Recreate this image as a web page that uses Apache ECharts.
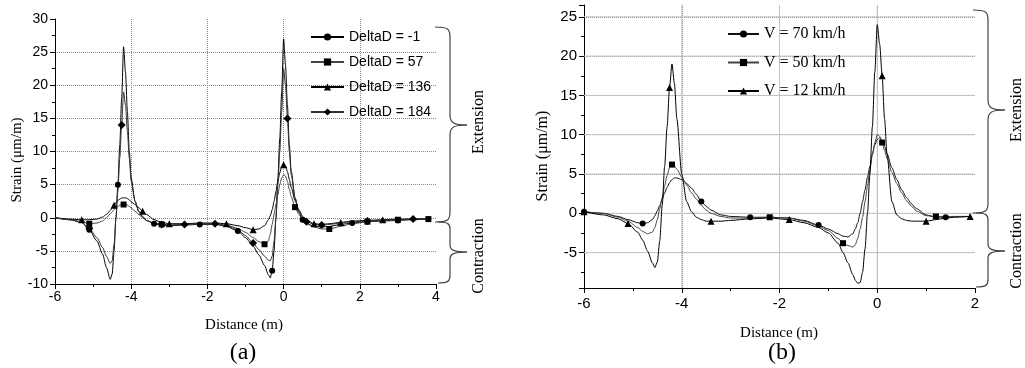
<!DOCTYPE html>
<html>
<head>
<meta charset="utf-8">
<script src="https://cdn.jsdelivr.net/npm/echarts@6/dist/echarts.min.js"></script>
<style>html,body{margin:0;padding:0;background:#fff}#c{width:1025px;height:368px}</style>
</head>
<body>
<div id="c"></div>
<script>
// ---------- Chart (a) ----------
const xA = [-6, -5.6, -5.3, -5.1, -4.9, -4.75, -4.65, -4.55, -4.5, -4.45,
  -4.4, -4.35, -4.3, -4.25, -4.2, -4.15, -4.1, -4.05, -4.0, -3.9,
  -3.8, -3.7, -3.6, -3.4, -3.2, -3.0, -2.6, -2.2, -1.8, -1.5,
  -1.2, -1.0, -0.8, -0.65, -0.5, -0.4, -0.35, -0.3, -0.25, -0.2,
  -0.15, -0.1, -0.05, 0, 0.05, 0.1, 0.15, 0.2, 0.3, 0.4,
  0.5, 0.6, 0.8, 1.0, 1.2, 1.5, 1.8, 2.2, 2.6, 3.0,
  3.4, 3.8];
const aNames = ['DeltaD = -1', 'DeltaD = 57', 'DeltaD = 136', 'DeltaD = 184'];
const aD1 = [0, -0.3, -0.7, -1.8, -3.5, -5.5, -7.5, -9.3, -8.5, -5,
  0, 5, 11, 18, 25.8, 22, 16, 10, 6, 2.5,
  1.0, 0.2, -0.4, -0.9, -1.1, -1.2, -1.1, -1.0, -1.0, -1.3,
  -2.0, -3.0, -4.3, -5.6, -7.2, -8.6, -9.1, -8, -5, 0,
  6, 12, 19, 27, 23, 17, 11, 7, 3, 0.8,
  -0.3, -0.9, -1.3, -1.4, -1.3, -1.0, -0.8, -0.6, -0.5, -0.4,
  -0.3, -0.2];
const aD2 = [0, -0.3, -0.6, -0.9, -0.8, -0.5, 0, 0.6, 0.9, 1.2,
  1.5, 1.7, 1.9, 2.0, 2.0, 2.0, 1.9, 1.7, 1.5, 1.0,
  0.5, 0.0, -0.4, -0.9, -1.0, -1.1, -1.0, -0.9, -0.9, -1.1,
  -1.6, -2.2, -3.0, -3.6, -4.0, -3.5, -2.5, -1, 0.5, 2,
  3.5, 5, 6, 6.5, 6.3, 5.5, 4.3, 3.2, 1.6, 0.5,
  -0.3, -0.8, -1.4, -1.7, -1.7, -1.3, -0.9, -0.6, -0.4, -0.3,
  -0.2, -0.2];
const aD3 = [0, -0.2, -0.3, -0.3, -0.2, 0.1, 0.5, 1.1, 1.5, 1.9,
  2.3, 2.6, 2.8, 3.0, 3.0, 3.0, 2.9, 2.7, 2.4, 2.0,
  1.5, 1.0, 0.5, -0.3, -0.7, -0.9, -0.9, -0.8, -0.8, -0.9,
  -1.2, -1.5, -1.8, -1.7, -1.2, -0.3, 0.3, 1.2, 2.5, 4,
  5.5, 6.8, 7.7, 8.0, 7.8, 7, 5.8, 4.6, 2.6, 1.2,
  0.2, -0.4, -0.9, -1.0, -0.9, -0.7, -0.5, -0.4, -0.3, -0.2,
  -0.2, -0.1];
const aD4 = [0, -0.3, -0.7, -1.6, -3.0, -4.5, -5.8, -6.9, -6.5, -4,
  0, 4, 9, 14, 19, 17, 13, 9, 5.5, 2.5,
  0.9, 0.1, -0.4, -0.8, -1.0, -1.1, -1.0, -0.9, -0.9, -1.2,
  -1.8, -2.7, -3.8, -4.8, -5.8, -6.4, -6.5, -5.8, -3.5, 0,
  5, 10, 16, 22.5, 20, 15, 10, 6.5, 3, 1,
  0, -0.6, -1.0, -1.1, -1.0, -0.8, -0.6, -0.5, -0.4, -0.3,
  -0.2, -0.1];
const aMark1 = [-5.1, -4.35, -3.4, -2.2, -1.2, -0.3, 0.5, 1.8, 3.0];
const aMark2 = [-5.1, -4.2, -3.2, -0.5, 0.3, 1.2, 2.2, 3.0, 3.8];
const aMark3 = [-5.3, -4.45, -3.7, -3.0, -1.5, -0.8, 0, 0.8, 1.5, 2.6];
const aMark4 = [-5.1, -4.25, -3.2, -2.6, -1.8, -0.8, 0.1, 0.6, 1.0, 2.2, 3.4];

// ---------- Chart (b) ----------
const xB = [-6, -5.6, -5.3, -5.1, -4.9, -4.8, -4.7, -4.6, -4.55, -4.5,
  -4.45, -4.4, -4.35, -4.3, -4.25, -4.2, -4.15, -4.1, -4.0, -3.9,
  -3.8, -3.7, -3.6, -3.5, -3.4, -3.2, -3.0, -2.6, -2.2, -1.8,
  -1.5, -1.2, -1.0, -0.8, -0.7, -0.6, -0.5, -0.45, -0.4, -0.35,
  -0.3, -0.25, -0.2, -0.15, -0.1, -0.05, 0, 0.05, 0.1, 0.15,
  0.2, 0.3, 0.4, 0.5, 0.6, 0.7, 0.8, 1.0, 1.2, 1.4,
  1.6, 1.9];
const bNames = ['V = 70 km/h', 'V = 50 km/h', 'V = 12 km/h'];
const bV70 = [0.2, 0, -0.4, -0.8, -1.2, -1.3, -1.2, -0.8, -0.3, 0.3,
  1.0, 1.8, 2.6, 3.3, 3.9, 4.3, 4.5, 4.5, 4.3, 3.8,
  3.2, 2.4, 1.5, 0.9, 0.4, -0.2, -0.4, -0.5, -0.5, -0.6,
  -0.9, -1.5, -2.0, -2.6, -2.9, -3.0, -2.6, -2.0, -1.2, 0,
  1.5, 3, 4.6, 6, 7.5, 8.7, 9.4, 9.6, 9.3, 8.5,
  7.6, 5.8, 4.3, 3.0, 2.0, 1.2, 0.6, -0.2, -0.5, -0.5,
  -0.4, -0.4];
const bV50 = [0.2, 0, -0.5, -1.0, -1.8, -2.3, -2.6, -2.4, -1.8, -0.8,
  0.6, 2.0, 3.5, 4.8, 5.8, 6.2, 6.0, 5.6, 4.6, 3.6,
  2.6, 1.8, 1.0, 0.4, 0, -0.4, -0.6, -0.6, -0.5, -0.6,
  -1.0, -1.6, -2.2, -3.2, -3.8, -4.1, -4.3, -4.0, -3.2, -2,
  -0.5, 1.5, 3.5, 5.5, 7.5, 9, 10, 9.8, 9, 8,
  7, 5.2, 3.8, 2.6, 1.6, 0.9, 0.3, -0.3, -0.4, -0.4,
  -0.4, -0.4];
const bV12 = [0.2, -0.2, -0.7, -1.3, -2.4, -3.4, -4.8, -6.3, -6.9, -6.2,
  -3.5, 1, 6, 11, 16, 19, 16.5, 12, 5, 1.5,
  0.2, -0.5, -0.8, -1.0, -1.0, -1.0, -0.9, -0.7, -0.6, -0.8,
  -1.2, -1.8, -2.5, -3.8, -5.0, -6.3, -7.8, -8.5, -8.9, -8.8,
  -7.5, -4.5, 0, 5, 11, 18, 24, 21.5, 17.5, 12,
  7.5, 1.5, -0.2, -0.7, -0.9, -1.0, -1.0, -1.0, -0.8, -0.6,
  -0.5, -0.4];
const bMark70 = [-6, -4.8, -3.6, -2.6, -1.2, 1.4];
const bMark50 = [-4.2, -2.2, -0.7, 0.1, 1.2];
const bMark12 = [-6, -5.1, -4.25, -3.4, -1.8, 0.1, 1.0, 1.9];

// tick values
const aXTicks = {min: -6, max: 4, interval: 2};
const aYTicks = {min: -10, max: 30, interval: 5};
const bXTicks = {min: -6, max: 2, interval: 2};
const bYTicks = {min: -9.5, max: 26.5};
// grid-line tick positions for chart (b)
const bXGrid = [-4, -2, 0];
const bYGrid = [-5, 0, 5, 10, 15, 20, 25];

function build(xs, ys, marks) {
  return xs.map((x, i) => marks.includes(x) ? [x, ys[i]] : {value: [x, ys[i]], symbol: 'none'});
}

const chart = echarts.init(document.getElementById('c'), null, {renderer: 'canvas'});
const sans = 'Liberation Sans, Arial, sans-serif';
const serif = 'Liberation Serif, Times New Roman, serif';
function splitStyle(show) {
  return {show: show, showMinLine: false, showMaxLine: false,
    lineStyle: {color: '#888', type: 'dotted', width: 1}};
}

function xAxis(gi, t, fs, margin, split) {
  return {
    type: 'value', gridIndex: gi, min: t.min, max: t.max, interval: t.interval,
    axisLine: {onZero: false, lineStyle: {color: '#000', width: 1}},
    axisTick: {length: 5, lineStyle: {color: '#000'}},
    minorTick: {show: true, splitNumber: 2, length: 3, lineStyle: {color: '#000'}},
    axisLabel: {color: '#000', fontFamily: sans, fontSize: fs, margin: margin},
    splitLine: splitStyle(split)
  };
}
function yAxis(gi, t, fs, extra, split) {
  return Object.assign({
    type: 'value', gridIndex: gi, min: t.min, max: t.max,
    axisLine: {show: true, onZero: false, lineStyle: {color: '#000', width: 1}},
    axisTick: {show: true, length: 5, lineStyle: {color: '#000'}},
    minorTick: {show: true, splitNumber: 2, length: 3, lineStyle: {color: '#000'}},
    axisLabel: {color: '#000', fontFamily: sans, fontSize: fs, margin: 7,
      formatter: v => (Math.abs(v % 5) < 1e-9 ? String(v) : '')},
    splitLine: splitStyle(split)
  }, extra);
}

function lineSeries(name, xi, xs, ys, marks, symbol, size, color) {
  return {
    name: name, type: 'line', xAxisIndex: xi, yAxisIndex: xi,
    data: build(xs, ys, marks), symbol: symbol, symbolSize: size,
    showSymbol: true, smooth: 0.25, smoothMonotone: 'x',
    lineStyle: {color: color, width: 1},
    itemStyle: {color: '#000'},
    emphasis: {disabled: true}, z: 3
  };
}
// light grid lines for chart (b), drawn from the tick arrays through the axes
function gridLines(xi, xt, yt, xg, yg) {
  const mk = (nm, d) => ({name: nm, type: 'line', xAxisIndex: xi, yAxisIndex: xi, data: d,
    showSymbol: false, symbol: 'none', silent: true, z: 2, smooth: false, emphasis: {disabled: true},
    itemStyle: {color: '#c4c4c4'},
    lineStyle: {color: '#c4c4c4', type: 'solid', width: 1, opacity: 1}});
  return xg.map((v, i) => mk('gx' + i, [[v, yt.min], [v, yt.max]]))
    .concat(yg.map((v, i) => mk('gy' + i, [[xt.min, v], [xt.max, v]])));
}

// brace built from lines and bezier curves
function brace(xv, xh, xt, yTop, yTip, yBot, r) {
  const st = {stroke: '#444', lineWidth: 1.2, fill: null};
  const els = [];
  const bz = (x1, y1, x2, y2, c1x, c1y, c2x, c2y) => els.push({type: 'bezierCurve', z: 10,
    shape: {x1: x1, y1: y1, x2: x2, y2: y2, cpx1: c1x, cpy1: c1y, cpx2: c2x, cpy2: c2y}, style: st});
  const ln = (x1, y1, x2, y2) => els.push({type: 'line', z: 10, shape: {x1: x1, y1: y1, x2: x2, y2: y2}, style: st});
  bz(xh, yTop, xv, yTop + r, xv - 2, yTop, xv, yTop + 2);
  ln(xv, yTop + r, xv, yTip - r);
  bz(xv, yTip - r, xt, yTip, xv, yTip - 2, xv + 4, yTip);
  bz(xt, yTip, xv, yTip + r, xv + 4, yTip, xv, yTip + 2);
  ln(xv, yTip + r, xv, yBot - r);
  bz(xv, yBot - r, xh, yBot, xv, yBot - 2, xv - 2, yBot);
  return els;
}
function vtext(txt, x, y, fs, fam) {
  return {type: 'text', x: x, y: y, rotation: Math.PI / 2, z: 10,
    style: {text: txt, fill: '#000', font: fs + 'px ' + fam, textAlign: 'center', textVerticalAlign: 'middle'}};
}
function htext(txt, x, y, fs, fam) {
  return {type: 'text', x: x, y: y, z: 10,
    style: {text: txt, fill: '#000', font: fs + 'px ' + fam, textAlign: 'center', textVerticalAlign: 'middle'}};
}

const option = {
  animation: false,
  backgroundColor: '#fff',
  grid: [
    {left: 55, top: 19, width: 381, height: 265},
    {left: 584, top: 5, width: 391, height: 283}
  ],
  xAxis: [xAxis(0, aXTicks, 14, 6, true), xAxis(1, bXTicks, 15, 8, true)],
  yAxis: [
    yAxis(0, aYTicks, 14, {interval: aYTicks.interval}, true),
    yAxis(1, bYTicks, 15, {splitNumber: 7}, true)
  ],
  legend: [
    {data: aNames, left: 305, top: 25, orient: 'vertical', itemWidth: 33, itemHeight: 9, itemGap: 11,
      textStyle: {fontFamily: sans, fontSize: 14, color: '#000'}, selectedMode: false},
    {data: bNames, left: 722, top: 21, orient: 'vertical', itemWidth: 31, itemHeight: 9, itemGap: 12.5,
      textStyle: {fontFamily: serif, fontSize: 16, color: '#000'}, selectedMode: false}
  ],
  series: [
    lineSeries(aNames[0], 0, xA, aD1, aMark1, 'circle', 6, '#000'),
    lineSeries(aNames[1], 0, xA, aD2, aMark2, 'rect', 6, '#444'),
    lineSeries(aNames[2], 0, xA, aD3, aMark3, 'triangle', 7, '#000'),
    lineSeries(aNames[3], 0, xA, aD4, aMark4, 'diamond', 8, '#333'),
    lineSeries(bNames[0], 1, xB, bV70, bMark70, 'circle', 6, '#111'),
    lineSeries(bNames[1], 1, xB, bV50, bMark50, 'rect', 6, '#444'),
    lineSeries(bNames[2], 1, xB, bV12, bMark12, 'triangle', 7, '#000')
  ].concat(gridLines(1, bXTicks, bYTicks, bXGrid, bYGrid)),
  graphic: [].concat(
    brace(450, 435, 467, 27, 125, 222, 10),
    brace(450, 438, 467, 222, 252, 283, 7),
    brace(988, 973, 1005, 10, 110, 213, 10),
    brace(988, 976, 1005, 213, 251, 287, 7),
    [
      vtext('Extension', 479, 122, 16, serif),
      vtext('Contraction', 479, 256, 16, serif),
      vtext('Extension', 1017, 110, 16, serif),
      vtext('Contraction', 1017, 251, 16, serif),
      vtext('Strain (\u03bcm/m)', 17, 160, 15, serif),
      vtext('Strain (\u03bcm/m)', 543, 156, 16, serif),
      htext('Distance (m)', 244, 325, 15, serif),
      htext('Distance (m)', 779, 333, 15, serif),
      htext('(a)', 243, 353, 24, serif),
      htext('(b)', 782, 353, 24, serif)
    ])
};
chart.setOption(option);
</script>
</body>
</html>
